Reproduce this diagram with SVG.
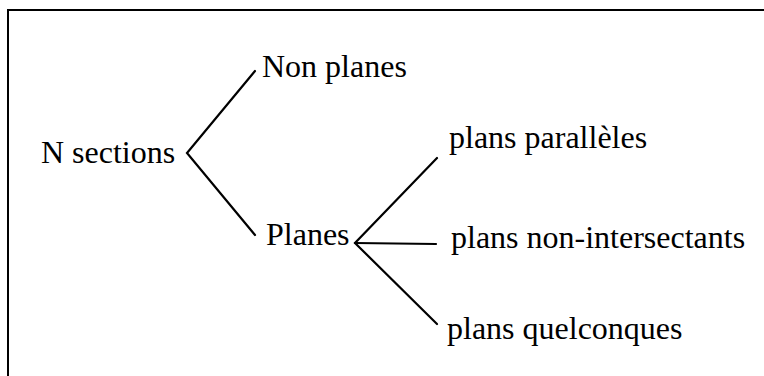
<svg xmlns="http://www.w3.org/2000/svg" width="764" height="376" viewBox="0 0 764 376">
<style>
text { font-family: "Liberation Serif", "Times New Roman", serif; font-size: 32px; fill: #000; }
.ln { stroke: #000; stroke-width: 2.2; fill: none; stroke-linecap: round; }
.frame { stroke: #000; stroke-width: 2; fill: none; }
</style>
<rect width="764" height="376" fill="#fff"/>
<path class="frame" d="M8,376 V10 H764"/>
<g id="connectors">
<path class="ln" d="M255,71 L187,153 L255,235"/>
<path class="ln" d="M437,158 L355,243 L437,324"/>
<path class="ln" d="M355,243 L436,244"/>
</g>
<g id="n-sections"><text x="41" y="163">N sections</text></g>
<g id="non-planes"><text x="262" y="77">Non planes</text></g>
<g id="planes"><text x="266" y="245">Planes</text></g>
<g id="plans-paralleles"><text x="449" y="148">plans parallèles</text></g>
<g id="plans-non-intersectants"><text x="451" y="248">plans non-intersectants</text></g>
<g id="plans-quelconques"><text x="447" y="339">plans quelconques</text></g>
</svg>
